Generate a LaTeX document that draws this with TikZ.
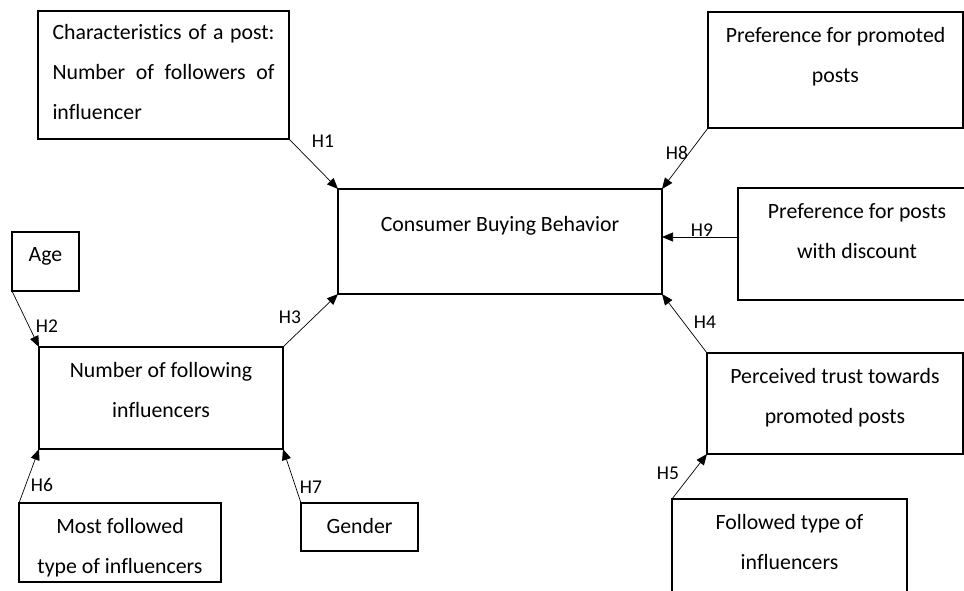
\documentclass[tikz,border=0pt]{standalone}
\usepackage{fontspec}
\setmainfont{Carlito}[Ligatures=NoCommon]
\usetikzlibrary{arrows.meta}

\begin{document}
\begin{tikzpicture}[x=1pt,y=-1pt]
\tikzstyle{box}=[draw,line width=1.8pt,inner sep=0pt,outer sep=0pt]
\tikzstyle{txt}=[anchor=north,yshift=-15pt,inner sep=0pt,align=center,font=\fontsize{21.8}{40}\selectfont]
\tikzstyle{hyp}=[-{Triangle[length=11pt,width=9pt]},line width=0.7pt]
\tikzstyle{hl}=[inner sep=0pt,font=\fontsize{19.5}{22}\selectfont]
\useasboundingbox (0,0) rectangle (964,590);

\node (post) at (163.5,75) [box,minimum width=251,minimum height=128,
  label={[txt,yshift=2pt,text width=222pt,align=justify]north:{\hyphenpenalty=10000 Characteristics of a post: Number of followers of influencer}}]{};
\node (cbb) at (500,241.5) [box,minimum width=324,minimum height=105,
  label={[txt,yshift=-12pt]north:Consumer Buying Behavior}]{};

\node (age) at (45.5,261.5) [box,minimum width=67,minimum height=59,
  label={[txt]north:Age}]{};
\node (nf) at (161,398) [box,minimum width=244,minimum height=102,
  label={[txt]north:Number of following\\influencers}]{};
\node (mf) at (120,542.5) [box,minimum width=202,minimum height=79,
  label={[txt]north:Most followed\\type of influencers}]{};
\node (gen) at (359.5,527) [box,minimum width=117,minimum height=48,
  label={[txt]north:Gender}]{};

\node (pp) at (835.5,70) [box,minimum width=255,minimum height=116,
  label={[txt]north:Preference for promoted\\posts}]{};
\node (pd) at (857,244) [box,minimum width=238,minimum height=112,
  label={[txt]north:Preference for posts\\with discount}]{};
\node (pt) at (835,403.5) [box,minimum width=256,minimum height=101,
  label={[txt]north:Perceived trust towards\\promoted posts}]{};
\node (ft) at (789.5,557) [box,minimum width=235,minimum height=116,
  label={[txt]north:Followed type of\\influencers}]{};

% hypotheses
\node (h1) at (323,141) [hl]{H1};
\node (h2) at (47,326) [hl]{H2};
\node (h3) at (290,317) [hl]{H3};
\node (h4) at (705,322) [hl]{H4};
\node (h5) at (668,473) [hl]{H5};
\node (h6) at (42,485) [hl]{H6};
\node (h7) at (311,487) [hl]{H7};
\node (h8) at (677,153) [hl]{H8};
\node (h9) at (702,230) [hl]{H9};

\draw[hyp] (post.south east) -- (cbb.north west);
\draw[hyp] (age.south west) -- (nf.north west);
\draw[hyp] (nf.north east) -- (cbb.south west);
\draw[hyp] (pt.north west) -- (cbb.south east);
\draw[hyp] (ft.north west) -- (pt.south west);
\draw[hyp] (mf.north west) -- (nf.south west);
\draw[hyp] (gen.north west) -- (nf.south east);
\draw[hyp] (pp.south west) -- (cbb.north east);
\draw[hyp] ([yshift=7pt]pd.west) -- ([yshift=7pt]pd.west -| cbb.east);
\end{tikzpicture}
\end{document}
